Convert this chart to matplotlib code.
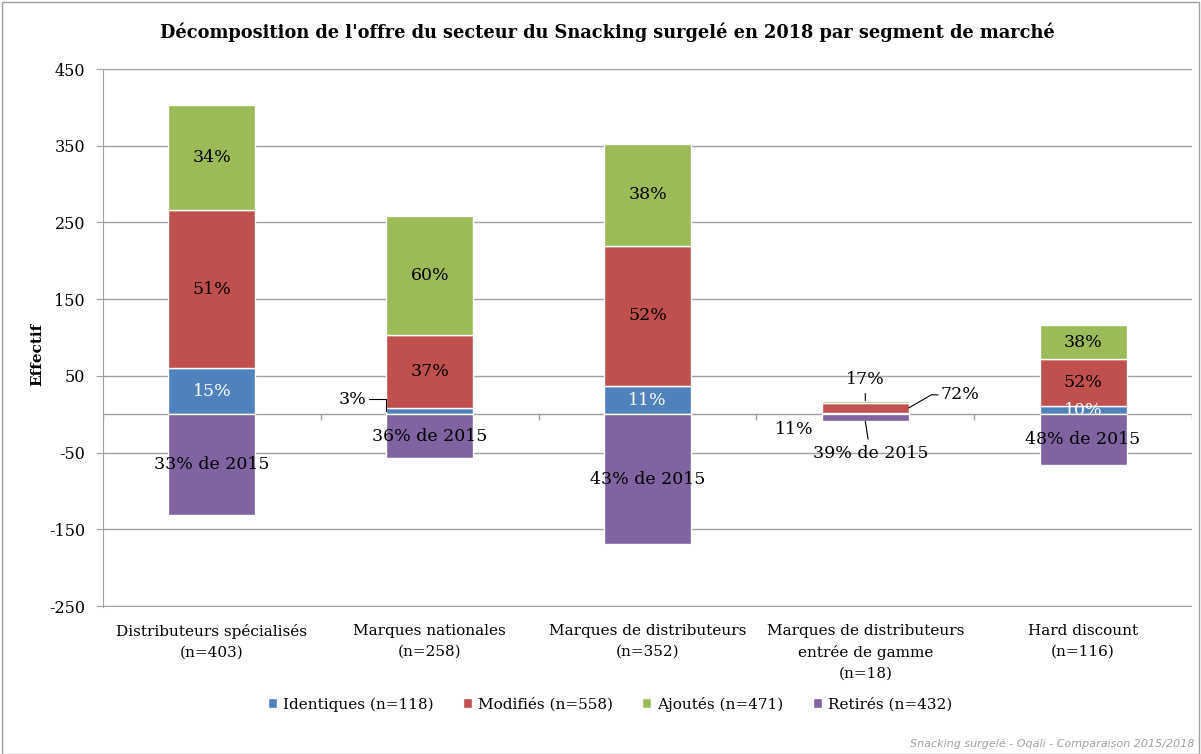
import numpy as np
import matplotlib
matplotlib.use("Agg")
from matplotlib import pyplot as plt
from matplotlib.patches import Rectangle

plt.rcParams['font.family'] = ['DejaVu Serif']
plt.rcParams['axes.unicode_minus'] = False

categories = ['Distributeurs spécialisés\n(n=403)', 'Marques nationales\n(n=258)',
              'Marques de distributeurs\n(n=352)',
              'Marques de distributeurs\nentrée de gamme\n(n=18)', 'Hard discount\n(n=116)']
identiques = [60, 8, 37, 2, 11]
modifies = [206, 95, 183, 13, 61]
ajoutes = [137, 155, 132, 3, 44]
retires = [-131, -57, -169, -9, -66]

pct_identiques = ['15%', '3%', '11%', '11%', '10%']
pct_modifies = ['51%', '37%', '52%', '72%', '52%']
pct_ajoutes = ['34%', '60%', '38%', '17%', '38%']
pct_retires = ['33%', '36%', '43%', '39%', '48%']

series_names = ['Identiques (n=118)', 'Modifiés (n=558)', 'Ajoutés (n=471)', 'Retirés (n=432)']
colors = ['#4F81BD', '#C0504D', '#9BBB59', '#8064A2']

fig = plt.figure(figsize=(12.01, 7.54), dpi=100)
ax = fig.add_axes([103 / 1201, 1 - 607 / 754, 1089 / 1201, 538 / 754])

x = np.arange(len(categories))
w = 0.4
idv = np.array(identiques)
mov = np.array(modifies)
ajv = np.array(ajoutes)
rev = np.array(retires)

kw = dict(width=w, edgecolor='white', linewidth=1, zorder=3)
b1 = ax.bar(x, idv, color=colors[0], label=series_names[0], **kw)
b2 = ax.bar(x, mov, bottom=idv, color=colors[1], label=series_names[1], **kw)
b3 = ax.bar(x, ajv, bottom=idv + mov, color=colors[2], label=series_names[2], **kw)
b4 = ax.bar(x, rev, color=colors[3], label=series_names[3], **kw)

fs = 12.5
small = 3  # segment drawn with outside labels
for i in range(len(x)):
    if i == small:
        continue
    if i != 1:
        ax.text(x[i], idv[i] / 2, pct_identiques[i], ha='center', va='center',
                color='white', fontsize=fs, zorder=4)
    ax.text(x[i], idv[i] + mov[i] / 2, pct_modifies[i], ha='center', va='center',
            fontsize=fs, zorder=4)
    ax.text(x[i], idv[i] + mov[i] + ajv[i] / 2, pct_ajoutes[i], ha='center', va='center',
            fontsize=fs, zorder=4)
    ax.text(x[i], rev[i] / 2, pct_retires[i] + ' de 2015', ha='center', va='center',
            fontsize=fs, zorder=4)

# outside labels
line = dict(arrowstyle='-', color='black', lw=0.8, shrinkA=0, shrinkB=0)
ax.annotate(pct_identiques[1], xy=(x[1] - w / 2, idv[1] / 2), xytext=(-20, 12),
            textcoords='offset pixels', ha='right', va='center', fontsize=fs,
            arrowprops=dict(line, connectionstyle='angle,angleA=0,angleB=90,rad=0'))
i = small
ax.annotate(pct_ajoutes[i], xy=(x[i], idv[i] + mov[i] + ajv[i]), xytext=(0, 21),
            textcoords='offset pixels', ha='center', va='center', fontsize=fs,
            arrowprops=dict(line, shrinkA=2))
ax.annotate(pct_modifies[i], xy=(x[i] + w / 2, idv[i] + mov[i] / 2), xytext=(32, 13),
            textcoords='offset pixels', ha='left', va='center', fontsize=fs,
            arrowprops=dict(line, connectionstyle='angle,angleA=0,angleB=30,rad=0'))
ax.annotate(pct_identiques[i], xy=(x[i], idv[i] / 2), xytext=(-71, -16),
            textcoords='offset pixels', ha='center', va='center', fontsize=fs)
ax.annotate(pct_retires[i] + ' de 2015', xy=(x[i], rev[i]), xytext=(5, -32),
            textcoords='offset pixels', ha='center', va='center', fontsize=fs,
            arrowprops=dict(line, shrinkA=2))

ax.set_xlim(-0.5, len(x) - 0.5)
ax.set_ylim(-251, 450)
ax.set_yticks(np.arange(-250, 451, 100))
ax.tick_params(axis='y', labelsize=11.5, length=5, color='#A0A0A0', pad=8)
ax.set_xticks(x)
ax.set_xticklabels(categories, fontsize=11, linespacing=1.6)
ax.tick_params(axis='x', length=0, pad=12)
ax.yaxis.grid(True, color='#A0A0A0', lw=1, zorder=0)
for s in ['top', 'right', 'bottom']:
    ax.spines[s].set_visible(False)
ax.spines['left'].set_color('#A0A0A0')
ax.axhline(0, color='#A0A0A0', lw=1, zorder=2)
ax.vlines(np.arange(len(x) + 1) - 0.5, 0, -7, color='#A0A0A0', lw=1, zorder=2)

ax.set_ylabel('Effectif', fontsize=11, fontweight='bold')
ax.yaxis.set_label_coords(-0.054, 0.47)

fig.text(0.506, 0.957, "Décomposition de l'offre du secteur du Snacking surgelé en 2018 par segment de marché",
         ha='center', va='center', fontsize=12.8, fontweight='bold')

fig.legend(handles=[b1, b2, b3, b4], loc='center', bbox_to_anchor=(0.508, 0.066), ncol=4,
           frameon=False, fontsize=11, handlelength=0.6, handleheight=0.6,
           handletextpad=0.4, columnspacing=1.9)

fig.text(0.995, 0.013, 'Snacking surgelé - Oqali - Comparaison 2015/2018', ha='right', va='center',
         fontsize=8, style='italic', color='#A0A0A0', family=['DejaVu Sans'])

fig.patches.append(Rectangle((0.002, 0.0), 0.996, 0.998, transform=fig.transFigure,
                             fill=False, edgecolor='#A0A0A0', lw=1))

plt.savefig('out.png', dpi=100)
